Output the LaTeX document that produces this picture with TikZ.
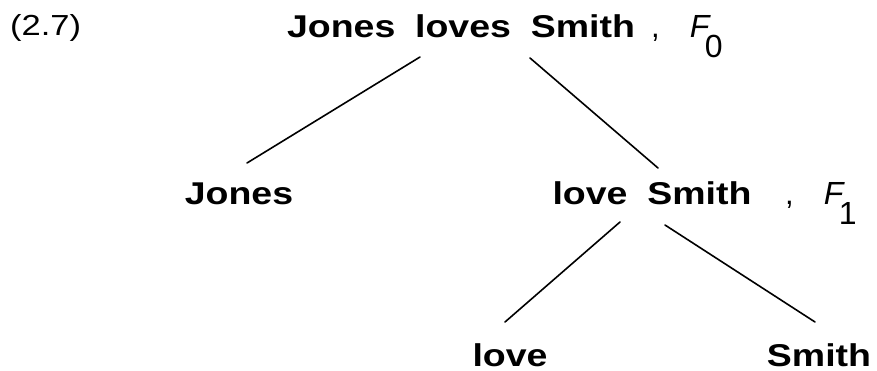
\documentclass[tikz,border=0pt]{standalone}
\usepackage{fontspec}
\setmainfont{Liberation Sans}
\newfontfamily\wordfont[FakeStretch=1.19, WordSpace=1.9]{Liberation Sans}
\tikzset{
  word/.style={anchor=base, inner sep=0pt, font=\wordfont\bfseries\fontsize{31.5}{31.5}\selectfont},
  tag/.style={anchor=base west, inner sep=0pt, font=\fontsize{31}{31}\selectfont},
  branch/.style={line width=1.6pt, line cap=round}
}
\newcommand{\ftag}[1]{,\hspace{30pt}{\fontsize{32}{32}\selectfont\textit{F}}\kern-6pt\raisebox{-20pt}{\fontsize{32}{32}\selectfont #1}}
\begin{document}
\begin{tikzpicture}[x=1pt,y=-1pt]
\useasboundingbox (0,0) rectangle (877,371);
\node[anchor=base west, inner sep=0pt, font=\wordfont\fontsize{29}{29}\selectfont] (num) at (10,36) {(2.7)};
\node[word] (top) at (461,38) {Jones loves Smith};
\node[tag] (f0) at (651,38) {\ftag{0}};
\node[word] (jones) at (239,205) {Jones};
\node[word] (vp) at (652,205) {love Smith};
\node[tag] (f1) at (785,205) {\ftag{1}};
\node[word] (love) at (510,366) {love};
\node[word] (smith) at (819,366) {Smith};
\coordinate (a1) at (420,57);  \coordinate (a2) at (247,163);
\coordinate (b1) at (530,58);  \coordinate (b2) at (658,168);
\coordinate (c1) at (620,222); \coordinate (c2) at (505,322);
\coordinate (d1) at (665,225); \coordinate (d2) at (815,322);
\draw[branch] (a1) -- (a2);
\draw[branch] (b1) -- (b2);
\draw[branch] (c1) -- (c2);
\draw[branch] (d1) -- (d2);
\end{tikzpicture}
\end{document}
